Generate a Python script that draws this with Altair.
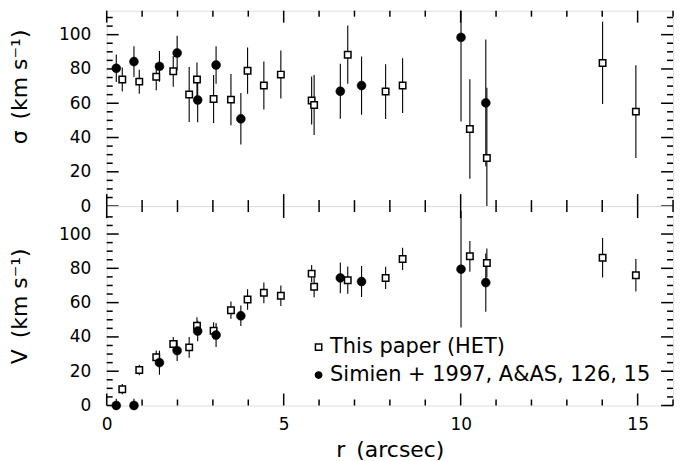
import altair as alt
import pandas as pd

# ---------------- data ----------------
SOURCES = ["This paper (HET)", "Simien + 1997, A&AS, 126, 15"]

# This paper (HET) -- open squares
R_HET = [0.44, 0.92, 1.40, 1.88, 2.33, 2.55, 3.02, 3.51, 3.98, 4.44,
         4.92, 5.79, 5.86, 6.81, 7.88, 8.36, 10.26, 10.74, 14.01, 14.95]
SIG_HET = [73.8, 72.6, 75.5, 78.6, 65.1, 73.8, 62.5, 62.1, 79.0, 70.3,
           76.7, 61.6, 59.0, 88.3, 66.8, 70.3, 45.0, 28.1, 83.5, 55.1]
SIG_HET_ERR = [7, 7, 8, 9, 16, 10, 14, 15, 13.5, 14,
               14, 14, 17.5, 17, 16, 16, 29, 41, 24, 27]
V_HET = [9.5, 20.7, 28.1, 35.9, 33.9, 46.5, 43.6, 55.6, 61.8, 65.7,
         64.0, 76.9, 69.2, 73.1, 74.4, 85.5, 87.0, 83.1, 86.2, 76.0]
V_HET_ERR = [3, 3, 4, 4, 6, 5, 5, 5, 6, 6,
             6, 5, 6, 8, 6.5, 6.5, 9, 8.5, 11.5, 9.5]

# Simien + 1997 -- filled circles
R_SIM = [0.27, 0.77, 1.49, 1.99, 2.57, 3.09, 3.79, 6.60, 7.20, 10.01, 10.71]
SIG_SIM = [80.4, 84.3, 81.5, 89.3, 61.9, 82.3, 50.9, 67.0, 70.3, 98.4, 60.2]
SIG_SIM_ERR = [8, 9, 9, 10, 13, 11, 15, 16, 17, 49, 37]
V_SIM = [0, 0, 25.0, 32.0, 43.4, 41.1, 52.3, 74.4, 72.3, 79.5, 71.7]
V_SIM_ERR = [4, 4, 7, 6, 6, 7, 6, 9, 9, 34, 17]

X_MAJOR = [0, 5, 10, 15]
X_MINOR = [1, 2, 3, 4, 6, 7, 8, 9, 11, 12, 13, 14, 16]
Y_MAJOR = [0, 20, 40, 60, 80, 100]
Y_MINOR = [5, 10, 15, 25, 30, 35, 45, 50, 55, 65, 70, 75, 85, 90, 95, 105, 110]

# ---------------- layout ----------------
W = 568
H_TOP = 196
H_BOT = 200
X_DOM = [0, 16]
Y_TOP_DOM = [0, 114]
Y_BOT_DOM = [0, 116.3]
FONT = "DejaVu Sans"
MAJ = 12
MIN = 6


def frame(r, val, err, src):
    return pd.DataFrame({
        "r": r,
        "val": val,
        "lo": [v - e for v, e in zip(val, err)],
        "hi": [v + e for v, e in zip(val, err)],
        "src": src,
    })


def panel(het, sim, ydom, height, ytitle, title_y, is_bottom):
    xs = alt.Scale(domain=X_DOM, nice=False, zero=False)
    ys = alt.Scale(domain=ydom, nice=False, zero=False)
    both = pd.concat([het, sim], ignore_index=True)

    xkw = dict(orient="bottom", ticks=False, domain=False, labels=is_bottom,
               values=X_MAJOR, labelFlush=False, labelPadding=11,
               labelFontSize=17, labelFont=FONT, grid=False)
    if is_bottom:
        xkw.update(title="r\u2002(arcsec)", titleFontSize=22, titlePadding=7,
                   titleFontWeight="normal", titleFont=FONT)
    else:
        xkw.update(title=None)
    ykw = dict(orient="left", ticks=False, domain=False, values=Y_MAJOR,
               labelPadding=16, labelFontSize=17, labelFont=FONT, title=ytitle,
               titleFontSize=22, titlePadding=27, titleFontWeight="normal",
               titleFont=FONT, grid=False)
    if title_y is not None:
        ykw["titleY"] = title_y

    rules = alt.Chart(both).mark_rule(color="black", strokeWidth=1.1, clip=True).encode(
        x=alt.X("r:Q", scale=xs, axis=alt.Axis(**xkw)),
        y=alt.Y("lo:Q", scale=ys, axis=alt.Axis(**ykw)),
        y2="hi:Q",
    )

    # inward tick marks on all four sides, placed through the scales
    tick_layers = []
    for vals, size in ((X_MAJOR, MAJ), (X_MINOR, MIN)):
        d = pd.DataFrame({"v": vals})
        for y0, y1 in ((height, height - size), (0, size)):
            tick_layers.append(
                alt.Chart(d).mark_rule(color="black", strokeWidth=1.5).encode(
                    x=alt.X("v:Q", scale=xs, axis=None),
                    y=alt.value(y0), y2=alt.value(y1),
                )
            )
    for vals, size in ((Y_MAJOR, MAJ), (Y_MINOR, MIN)):
        d = pd.DataFrame({"v": vals})
        for x0, x1 in ((0, size), (W, W - size)):
            tick_layers.append(
                alt.Chart(d).mark_rule(color="black", strokeWidth=1.5).encode(
                    y=alt.Y("v:Q", scale=ys, axis=None),
                    x=alt.value(x0), x2=alt.value(x1),
                )
            )

    if is_bottom:
        leg = alt.Legend(orient="none", legendX=202, legendY=131, title=None,
                         labelFont=FONT, labelFontSize=21, labelColor="black",
                         labelLimit=0, symbolSize=40, symbolStrokeWidth=1.5,
                         rowPadding=6, labelOffset=1, padding=0, symbolOpacity=1)
        shp = alt.Shape("src:N", scale=alt.Scale(domain=SOURCES, range=["square", "circle"]), legend=leg)
        fil = alt.Fill("src:N", scale=alt.Scale(domain=SOURCES, range=["white", "black"]), legend=leg)
        stk = alt.Stroke("src:N", scale=alt.Scale(domain=SOURCES, range=["black", "black"]), legend=leg)
        squares = alt.Chart(het).mark_point(filled=True, strokeWidth=1.5,
                                             size=42, opacity=1).encode(
            x=alt.X("r:Q", scale=xs, axis=None),
            y=alt.Y("val:Q", scale=ys, axis=None),
            shape=shp, fill=fil, stroke=stk,
        )
        circles = alt.Chart(sim).mark_point(filled=True, strokeWidth=0.5,
                                             size=80, opacity=1).encode(
            x=alt.X("r:Q", scale=xs, axis=None),
            y=alt.Y("val:Q", scale=ys, axis=None),
            shape=shp, fill=fil, stroke=stk,
        )
    else:
        squares = alt.Chart(het).mark_point(shape="square", filled=True, fill="white",
                                             stroke="black", strokeWidth=1.5,
                                             size=42, opacity=1).encode(
            x=alt.X("r:Q", scale=xs, axis=None),
            y=alt.Y("val:Q", scale=ys, axis=None),
        )
        circles = alt.Chart(sim).mark_point(shape="circle", filled=True, fill="black",
                                             stroke="black", strokeWidth=0.5,
                                             size=80, opacity=1).encode(
            x=alt.X("r:Q", scale=xs, axis=None),
            y=alt.Y("val:Q", scale=ys, axis=None),
        )

    return alt.layer(rules, *tick_layers, squares, circles).resolve_axis(
        x="independent", y="independent"
    ).properties(width=W, height=height)


sig_het = frame(R_HET, SIG_HET, SIG_HET_ERR, SOURCES[0])
sig_sim = frame(R_SIM, SIG_SIM, SIG_SIM_ERR, SOURCES[1])
v_het = frame(R_HET, V_HET, V_HET_ERR, SOURCES[0])
v_sim = frame(R_SIM, V_SIM, V_SIM_ERR, SOURCES[1])

top = panel(sig_het, sig_sim, Y_TOP_DOM, H_TOP, "\u03c3\u2002(km s\u207b\u00b9)", 76, False)
bottom = panel(v_het, v_sim, Y_BOT_DOM, H_BOT, "V\u2002(km s\u207b\u00b9)", None, True)

chart = alt.vconcat(top, bottom, spacing=0, bounds="flush").resolve_scale(
    shape="independent", fill="independent", stroke="independent"
).resolve_legend(
    shape="independent", fill="independent", stroke="independent"
).properties(
    padding={"left": 0, "top": 0, "right": 10, "bottom": 0}
).configure_view(
    stroke="black", strokeWidth=2
).configure_axis(
    labelFont=FONT, titleFont=FONT, labelColor="black", titleColor="black",
    titleFontWeight="normal", grid=False
).configure(background="white")

chart.save("out.html", embed_options={"renderer": "svg", "actions": False})
